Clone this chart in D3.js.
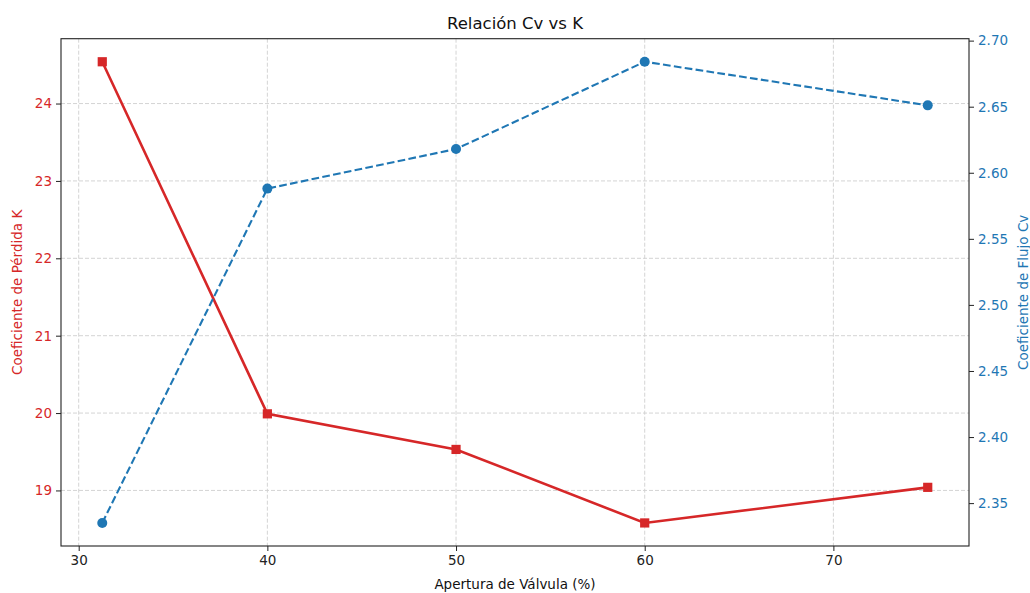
<!DOCTYPE html>
<html>
<head>
<meta charset="utf-8">
<script src="https://cdn.jsdelivr.net/npm/d3@7"></script>
<style>
  body { margin: 0; background: #fff; }
  svg { display: block; font-family: "DejaVu Sans", sans-serif; }
</style>
</head>
<body>
<svg id="chart" width="1030" height="593"></svg>
<script>
// Data
const apertura = [31.25, 40, 50, 60, 75];
const coefK = [24.54, 19.99, 19.53, 18.58, 19.04];
const coefCv = [2.335, 2.588, 2.618, 2.684, 2.651];
const xTicks = [30, 40, 50, 60, 70];
const kTicks = [19, 20, 21, 22, 23, 24];
const cvTicks = [2.35, 2.40, 2.45, 2.50, 2.55, 2.60, 2.65, 2.70];

const red = "#d62728", blue = "#1f77b4";
const W = 1030, H = 593;
const m = { left: 61, right: 969, top: 38.7, bottom: 546 };

function padded(arr) {
  const [a, b] = d3.extent(arr);
  const p = (b - a) * 0.05;
  return [a - p, b + p];
}

const x = d3.scaleLinear().domain(padded(apertura)).range([m.left, m.right]);
const yK = d3.scaleLinear().domain(padded(coefK)).range([m.bottom, m.top]);
const yCv = d3.scaleLinear().domain(padded(coefCv)).range([m.bottom, m.top]);

const svg = d3.select("#chart");

// Grid
const grid = svg.append("g");
grid.selectAll("line.gx").data(xTicks).enter().append("line")
  .attr("x1", d => x(d)).attr("x2", d => x(d))
  .attr("y1", m.top).attr("y2", m.bottom)
  .attr("stroke", "#cfcfcf").attr("stroke-width", 0.9).attr("stroke-dasharray", "4,2");
grid.selectAll("line.gy").data(kTicks).enter().append("line")
  .attr("x1", m.left).attr("x2", m.right)
  .attr("y1", d => yK(d)).attr("y2", d => yK(d))
  .attr("stroke", "#cfcfcf").attr("stroke-width", 0.9).attr("stroke-dasharray", "4,2");

// Red line
const lineK = d3.line().x((d, i) => x(apertura[i])).y(d => yK(d));
svg.append("path").datum(coefK).attr("d", lineK)
  .attr("fill", "none").attr("stroke", red).attr("stroke-width", 2.6);
svg.selectAll("rect.mk").data(coefK).enter().append("rect")
  .attr("x", (d, i) => x(apertura[i]) - 4.6).attr("y", d => yK(d) - 4.6)
  .attr("width", 9.2).attr("height", 9.2).attr("fill", red);

// Blue dashed line
const lineCv = d3.line().x((d, i) => x(apertura[i])).y(d => yCv(d));
svg.append("path").datum(coefCv).attr("d", lineCv)
  .attr("fill", "none").attr("stroke", blue).attr("stroke-width", 2.1)
  .attr("stroke-dasharray", "7.7,3.3");
svg.selectAll("circle.mk").data(coefCv).enter().append("circle")
  .attr("cx", (d, i) => x(apertura[i])).attr("cy", d => yCv(d))
  .attr("r", 5).attr("fill", blue);

// Axes
const fs = "13.5px";
const xAxis = svg.append("g").attr("transform", `translate(0,${m.bottom})`)
  .call(d3.axisBottom(x).tickValues(xTicks).tickSize(5).tickPadding(4).tickFormat(d3.format("d")));
xAxis.select(".domain").remove();
xAxis.selectAll("text").attr("font-size", fs).attr("fill", "#222").attr("font-family", "DejaVu Sans");
xAxis.selectAll("line").attr("stroke", "#222");

const yAxisL = svg.append("g").attr("transform", `translate(${m.left},0)`)
  .call(d3.axisLeft(yK).tickValues(kTicks).tickSize(5).tickPadding(4).tickFormat(d3.format("d")));
yAxisL.select(".domain").remove();
yAxisL.selectAll("text").attr("font-size", fs).attr("fill", red).attr("font-family", "DejaVu Sans");
yAxisL.selectAll("line").attr("stroke", "#222");

const yAxisR = svg.append("g").attr("transform", `translate(${m.right},0)`)
  .call(d3.axisRight(yCv).tickValues(cvTicks).tickSize(5).tickPadding(4).tickFormat(d3.format(".2f")));
yAxisR.select(".domain").remove();
yAxisR.selectAll("text").attr("font-size", fs).attr("fill", blue).attr("font-family", "DejaVu Sans");
yAxisR.selectAll("line").attr("stroke", "#222");

// Frame
svg.append("rect").attr("x", m.left).attr("y", m.top)
  .attr("width", m.right - m.left).attr("height", m.bottom - m.top)
  .attr("fill", "none").attr("stroke", "#222").attr("stroke-width", 1.1);

// Labels
svg.append("text").attr("x", (m.left + m.right) / 2).attr("y", 29)
  .attr("text-anchor", "middle").attr("font-size", "16.5px").attr("fill", "#111")
  .text("Relación Cv vs K");
svg.append("text").attr("x", (m.left + m.right) / 2).attr("y", 589)
  .attr("text-anchor", "middle").attr("font-size", fs).attr("fill", "#111")
  .text("Apertura de Válvula (%)");
const cy = (m.top + m.bottom) / 2;
svg.append("text").attr("transform", `translate(22,${cy}) rotate(-90)`)
  .attr("text-anchor", "middle").attr("font-size", fs).attr("fill", red)
  .text("Coeficiente de Pérdida K");
svg.append("text").attr("transform", `translate(1028,${cy}) rotate(-90)`)
  .attr("text-anchor", "middle").attr("font-size", fs).attr("fill", blue)
  .text("Coeficiente de Flujo Cv");
</script>
</body>
</html>
